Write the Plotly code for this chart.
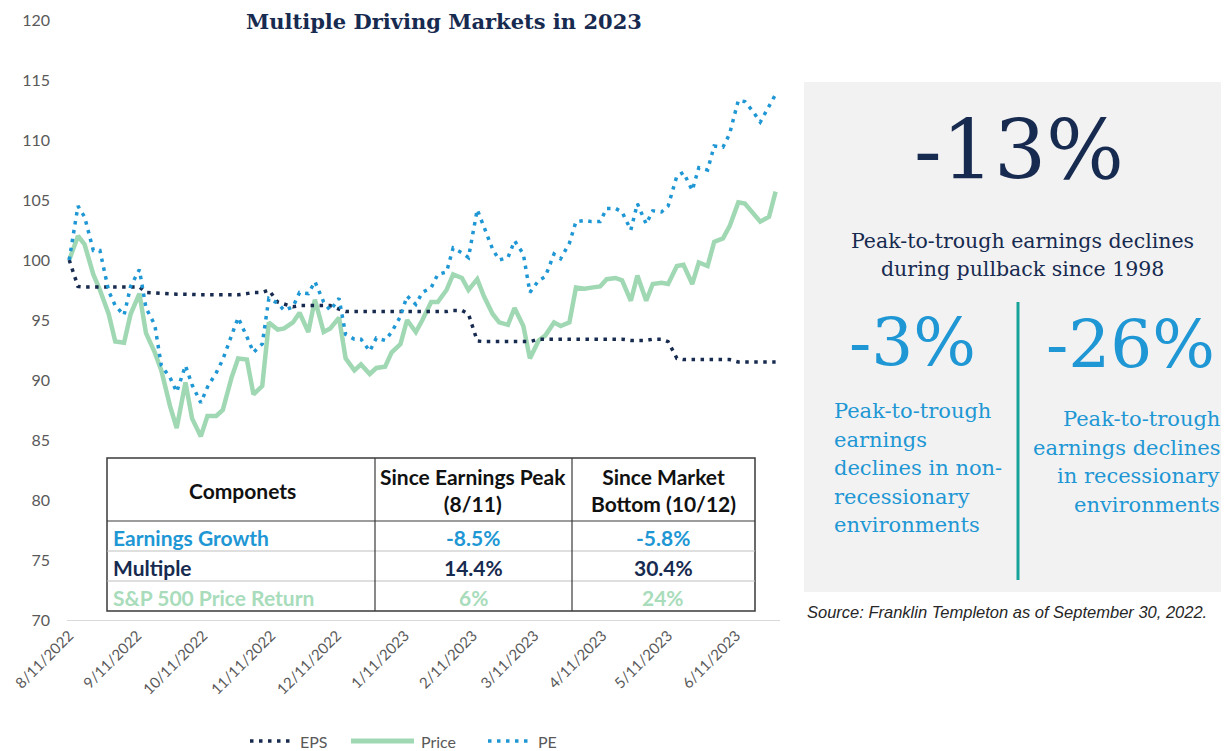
import plotly.graph_objects as go

# ---------------- data ----------------
dates = ["2022-08-11","2022-08-15","2022-08-18","2022-08-22","2022-08-25","2022-08-29",
         "2022-09-01","2022-09-05","2022-09-08","2022-09-12","2022-09-15","2022-09-19","2022-09-22","2022-09-26","2022-09-29",
         "2022-10-03","2022-10-06","2022-10-10","2022-10-13","2022-10-17","2022-10-20","2022-10-24","2022-10-27","2022-10-31",
         "2022-11-03","2022-11-07","2022-11-10","2022-11-14","2022-11-17","2022-11-21","2022-11-24","2022-11-28",
         "2022-12-01","2022-12-05","2022-12-08","2022-12-12","2022-12-15","2022-12-19","2022-12-22","2022-12-26","2022-12-29",
         "2023-01-02","2023-01-05","2023-01-09","2023-01-12","2023-01-16","2023-01-19","2023-01-23","2023-01-26","2023-01-30",
         "2023-02-02","2023-02-06","2023-02-09","2023-02-13","2023-02-16","2023-02-20","2023-02-23","2023-02-27",
         "2023-03-02","2023-03-06","2023-03-09","2023-03-13","2023-03-16","2023-03-20","2023-03-23","2023-03-27","2023-03-30",
         "2023-04-03","2023-04-06","2023-04-10","2023-04-13","2023-04-17","2023-04-20","2023-04-24","2023-04-27",
         "2023-05-01","2023-05-04","2023-05-08","2023-05-11","2023-05-15","2023-05-18","2023-05-22","2023-05-25","2023-05-29",
         "2023-06-01","2023-06-05","2023-06-08","2023-06-12","2023-06-15","2023-06-19","2023-06-22","2023-06-26","2023-06-29"]

price = [100.0, 102.0, 101.3, 98.8, 97.5, 95.5,
         93.2, 93.1, 95.5, 97.2, 93.9, 92.3, 90.8, 87.8, 86.0,
         89.8, 86.8, 85.3, 87.0, 87.0, 87.5, 90.2, 91.8, 91.7,
         88.8, 89.5, 94.8, 94.2, 94.3, 94.8, 95.6, 94.0,
         96.7, 94.0, 94.3, 95.2, 91.8, 90.8, 91.3, 90.5, 91.0,
         91.1, 92.3, 93.0, 95.0, 94.0, 95.0, 96.5, 96.5, 97.5,
         98.8, 98.5, 97.5, 98.4, 97.0, 95.5, 94.8, 94.6,
         96.0, 94.5, 91.8, 93.3, 93.7, 94.8, 94.5, 94.8, 97.7,
         97.6, 97.7, 97.8, 98.4, 98.5, 98.3, 96.6, 98.7,
         96.6, 98.0, 98.1, 98.0, 99.5, 99.6, 98.0, 99.8, 99.5,
         101.5, 101.8, 102.8, 104.8, 104.7, 103.8, 103.2, 103.6, 105.7]

pe = [100.0, 104.5, 103.6, 100.8, 100.8, 97.4,
      96.2, 95.4, 97.8, 99.2, 96.0, 94.6, 91.2, 90.2, 89.0,
      91.2, 89.6, 88.1, 89.4, 90.6, 91.7, 93.6, 95.2, 93.6,
      92.3, 93.0, 96.8, 96.4, 95.8, 96.1, 97.3, 97.2,
      98.2, 96.5, 95.8, 96.8, 93.8, 93.4, 93.4, 92.4, 93.5,
      93.3, 94.0, 95.3, 97.0, 96.3, 97.3, 97.7, 98.8, 99.0,
      101.0, 100.6, 100.2, 104.2, 102.8, 100.9, 100.0, 100.2,
      101.6, 100.5, 97.3, 98.3, 98.6, 100.5, 100.1, 101.4, 103.2,
      103.3, 103.2, 103.2, 104.3, 104.3, 104.0, 102.5, 104.7,
      103.0, 104.1, 104.0, 104.5, 107.0, 107.3, 105.8, 107.7, 107.5,
      109.5, 109.4, 110.5, 113.3, 113.2, 112.3, 111.5, 112.9, 113.8]

eps = [100.0, 97.8, 97.75, 97.75, 97.75, 97.75,
       97.75, 97.75, 97.75, 97.75, 97.3, 97.25, 97.2, 97.2, 97.15,
       97.15, 97.1, 97.1, 97.1, 97.1, 97.05, 97.05, 97.1, 97.2,
       97.3, 97.3, 97.5, 96.5, 96.3, 96.1, 96.2, 96.2,
       96.2, 96.2, 96.2, 95.9, 95.7, 95.7, 95.7, 95.7, 95.7,
       95.7, 95.7, 95.7, 95.7, 95.7, 95.7, 95.7, 95.7, 95.7,
       95.8, 95.8, 95.5, 93.25, 93.2, 93.2, 93.2, 93.2,
       93.2, 93.2, 93.2, 93.4, 93.4, 93.4, 93.4, 93.4, 93.4,
       93.4, 93.4, 93.4, 93.4, 93.4, 93.4, 93.3, 93.3,
       93.3, 93.4, 93.4, 93.2, 91.8, 91.7, 91.7, 91.7, 91.7,
       91.7, 91.7, 91.7, 91.5, 91.5, 91.5, 91.5, 91.5, 91.5]

tick_dates = ["2022-08-11","2022-09-11","2022-10-11","2022-11-11","2022-12-11","2023-01-11",
              "2023-02-11","2023-03-11","2023-04-11","2023-05-11","2023-06-11"]
tick_labels = ["8/11/2022","9/11/2022","10/11/2022","11/11/2022","12/11/2022","1/11/2023",
               "2/11/2023","3/11/2023","4/11/2023","5/11/2023","6/11/2023"]

table_header = ["Componets", "Since Earnings Peak<br>(8/11)", "Since Market<br>Bottom (10/12)"]
table_rows = [["Earnings Growth", "-8.5%", "-5.8%"],
              ["Multiple", "14.4%", "30.4%"],
              ["S&P 500 Price Return", "6%", "24%"]]

headline = "-13%"
headline_text = ["Peak-to-trough earnings declines", "during pullback since 1998"]
left_stat = "-3%"
left_text = ["Peak-to-trough", "earnings", "declines in non-", "recessionary", "environments"]
right_stat = "-26%"
right_text = ["Peak-to-trough", "earnings declines", "in recessionary", "environments"]
source = "Source: Franklin Templeton as of September 30, 2022."

# ---------------- styling ----------------
NAVY = "#172a4f"
GREEN = "#9fd8b3"
BLUE = "#1e97d4"
TEAL = "#16a39a"
GRAY = "#595959"
row_colors = [BLUE, NAVY, "#a8dcbb"]
DOT = "3.5px,5.5px"

OFF = 8                      # page body margin
W, H = 1229 - OFF, 751       # figure taller than the visible window so nothing is clipped
L, R, T, B = 67, 780, 20, 620  # plot area in reference pixels


def px(x):
    return (x - L) / (R - L)


def py(y):
    return (B - y) / (B - T)


series = [("EPS", eps, NAVY, 3.5, DOT), ("Price", price, GREEN, 4.5, "solid"), ("PE", pe, BLUE, 3.5, DOT)]

fig = go.Figure()
for name, vals, col, wid, dash in [series[1], series[0], series[2]]:
    fig.add_trace(go.Scatter(x=dates, y=vals, name=name, mode="lines",
                             line=dict(color=col, width=wid, dash=dash), showlegend=False))

shapes = []
annotations = []


def label(x, y, text, size, color, family, xanchor="center", yanchor="middle", align="center"):
    annotations.append(dict(x=px(x), y=py(y), xref="paper", yref="paper", showarrow=False,
                            text=text, font=dict(family=family, size=size, color=color),
                            xanchor=xanchor, yanchor=yanchor, align=align))


def hline(x0, x1, y, color, width, dash="solid", layer="above"):
    shapes.append(dict(type="line", xref="paper", yref="paper", x0=px(x0), x1=px(x1), y0=py(y), y1=py(y),
                       line=dict(color=color, width=width, dash=dash), layer=layer))


# title
label(444, 22, "<b>Multiple Driving Markets in 2023</b>", 21, NAVY, "DejaVu Serif")

# ---- legend (drawn below the axis) ----
LEG_Y = 741
leg_pos = [(250, 293), (351, 414), (488, 531)]
for (name, vals, col, wid, dash), (lx0, lx1) in zip(series, leg_pos):
    hline(lx0, lx1, LEG_Y, col, wid + (0.5 if dash == "solid" else 0), dash)
    label(lx1 + 5, LEG_Y, name, 16, GRAY, "Lato", xanchor="left", align="left")

# ---- table ----
col_x = [107, 375, 572, 755]
row_y = [458, 521, 551, 581, 611]
shapes.append(dict(type="rect", xref="paper", yref="paper", x0=px(col_x[0]), x1=px(col_x[-1]),
                   y0=py(row_y[-1]), y1=py(row_y[0]),
                   fillcolor="white", line=dict(color="#3a3a3a", width=1.5), layer="above"))
hline(col_x[0], col_x[-1], row_y[1], "#3a3a3a", 1.2)
for yy in row_y[2:4]:
    hline(col_x[0], col_x[-1], yy, "#bfbfbf", 1)
for xx in col_x[1:3]:
    shapes.append(dict(type="line", xref="paper", yref="paper", x0=px(xx), x1=px(xx),
                       y0=py(row_y[-1]), y1=py(row_y[0]), line=dict(color="#3a3a3a", width=1.2), layer="above"))

TFONT = "Lato"
TSIZE = 21
label(242, 490, "<b>%s</b>" % table_header[0], TSIZE, "#111111", TFONT)
for i, cx in enumerate([473, 663]):
    label(cx, 490, "<b>%s</b>" % table_header[i + 1], TSIZE, "#111111", TFONT)
for r, row in enumerate(table_rows):
    cy = (row_y[r + 1] + row_y[r + 2]) / 2 + 1
    label(111, cy, "<b>%s</b>" % row[0], TSIZE, row_colors[r], TFONT, xanchor="left", align="left")
    for c, cx in enumerate([473, 663]):
        label(cx, cy, "<b>%s</b>" % row[c + 1], TSIZE, row_colors[r], TFONT)

# ---- right panel ----
shapes.append(dict(type="rect", xref="paper", yref="paper", x0=px(804), x1=px(1229), y0=py(592), y1=py(82),
                   fillcolor="#f2f2f2", line=dict(width=0), layer="below"))
shapes.append(dict(type="line", xref="paper", yref="paper", x0=px(1018), x1=px(1018), y0=py(580), y1=py(302),
                   line=dict(color=TEAL, width=3)))
SERIF = "DejaVu Serif"
label(1019, 150, headline, 82, NAVY, SERIF)
for i, t in enumerate(headline_text):
    label(1022, 241 + 28 * i, t, 20.5, NAVY, SERIF)
label(913, 342, left_stat, 66, BLUE, SERIF)
label(1130, 344, right_stat, 66, BLUE, SERIF)
for i, t in enumerate(left_text):
    label(832, 411 + 28.5 * i, t, 21, BLUE, SERIF, xanchor="left", align="left")
for i, t in enumerate(right_text):
    label(1222, 419 + 28.5 * i, t, 21, BLUE, SERIF, xanchor="right", align="right")
label(805, 612, "<i>%s</i>" % source, 16.5, "#262626", "Liberation Sans", xanchor="left", align="left")

fig.update_layout(
    width=W, height=H,
    margin=dict(l=L - OFF, r=W - (R - OFF), t=T - OFF, b=H - (B - OFF), pad=0, autoexpand=False),
    paper_bgcolor="white", plot_bgcolor="white",
    showlegend=False,
    shapes=shapes, annotations=annotations,
)
fig.update_xaxes(type="date", range=["2022-08-10", "2023-07-01"],
                 tickvals=tick_dates, ticktext=tick_labels, tickangle=-45,
                 tickfont=dict(family="Lato", size=15, color=GRAY),
                 showgrid=False, zeroline=False, showline=True, linecolor="#d9d9d9", linewidth=1,
                 ticks="", automargin=False)
fig.update_yaxes(range=[70, 120], dtick=5, tick0=70,
                 tickfont=dict(family="Lato", size=16, color=GRAY),
                 showgrid=False, zeroline=False, showline=False, ticks="", ticklabelstandoff=16,
                 automargin=False)

fig.write_html("out.html")
